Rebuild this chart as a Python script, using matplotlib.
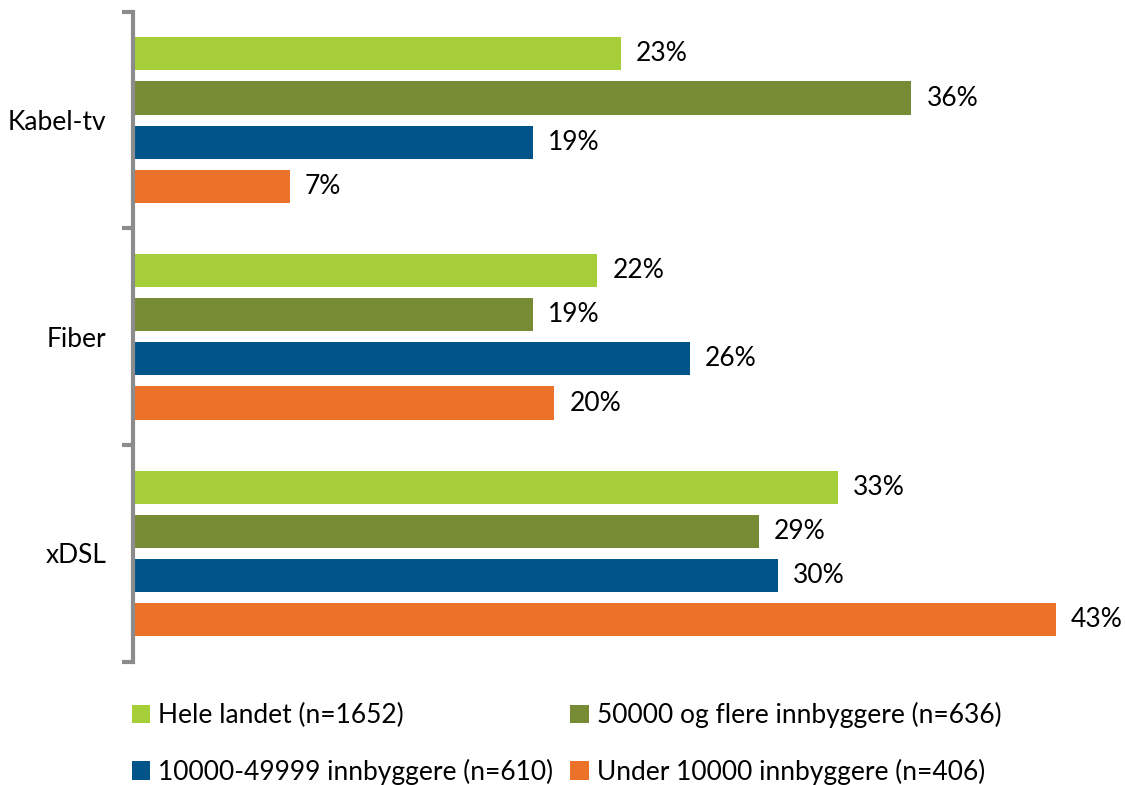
import numpy as np
import matplotlib.pyplot as plt
from matplotlib.patches import Patch

plt.rcParams['font.family'] = ['Lato', 'DejaVu Sans']

categories = ['Kabel-tv', 'Fiber', 'xDSL']
series = ['Hele landet (n=1652)', '50000 og flere innbyggere (n=636)',
          '10000-49999 innbyggere (n=610)', 'Under 10000 innbyggere (n=406)']
values = [
    [22.7, 21.6, 32.8],   # Hele landet
    [36.2, 18.6, 29.1],   # 50000+
    [18.6, 25.9, 30.0],   # 10000-49999
    [7.3, 19.6, 42.9],    # under 10000
]
colors = ['#A6CE39', '#778B35', '#00548A', '#EC7229']

fig = plt.figure(figsize=(11.25, 7.85), dpi=100)
ax = fig.add_axes([0.118, 0.157, 0.870, 0.828])

y = np.arange(len(categories))
pitch = 0.204
height = 0.153
for i, (vals, c) in enumerate(zip(values, colors)):
    pos = y + (i - 1.5) * pitch
    ax.barh(pos, vals, height=height, color=c, left=0)
    for p, v in zip(pos, vals):
        ax.text(v + 0.7, p, f'{round(v)}%', va='center', ha='left', fontsize=19)

ax.set_xlim(0, 45.5)
ax.set_ylim(2.5, -0.5)
ax.set_xticks([])
for s in ['top', 'right', 'bottom']:
    ax.spines[s].set_visible(False)
ax.spines['left'].set_color('#8C8C8C')
ax.spines['left'].set_linewidth(3)

ax.set_yticks([-0.5, 0.5, 1.5, 2.5])
ax.set_yticklabels([])
ax.tick_params(axis='y', which='major', length=8, width=3, color='#8C8C8C', direction='out')
ax.set_yticks(y, minor=True)
ax.set_yticklabels(categories, minor=True, fontsize=19)
ax.tick_params(axis='y', which='minor', length=0, pad=19)

# legend filled row by row
order = [0, 2, 1, 3]
handles = [Patch(facecolor=colors[k], edgecolor='none') for k in order]
labels = [series[k] for k in order]
fig.legend(handles, labels, loc='lower left', bbox_to_anchor=(0.096, -0.03), ncol=2,
           frameon=False, fontsize=19, handlelength=0.7, handleheight=0.7,
           handletextpad=0.3, columnspacing=0.65, labelspacing=1.15)

fig.savefig('out.png', dpi=100)
